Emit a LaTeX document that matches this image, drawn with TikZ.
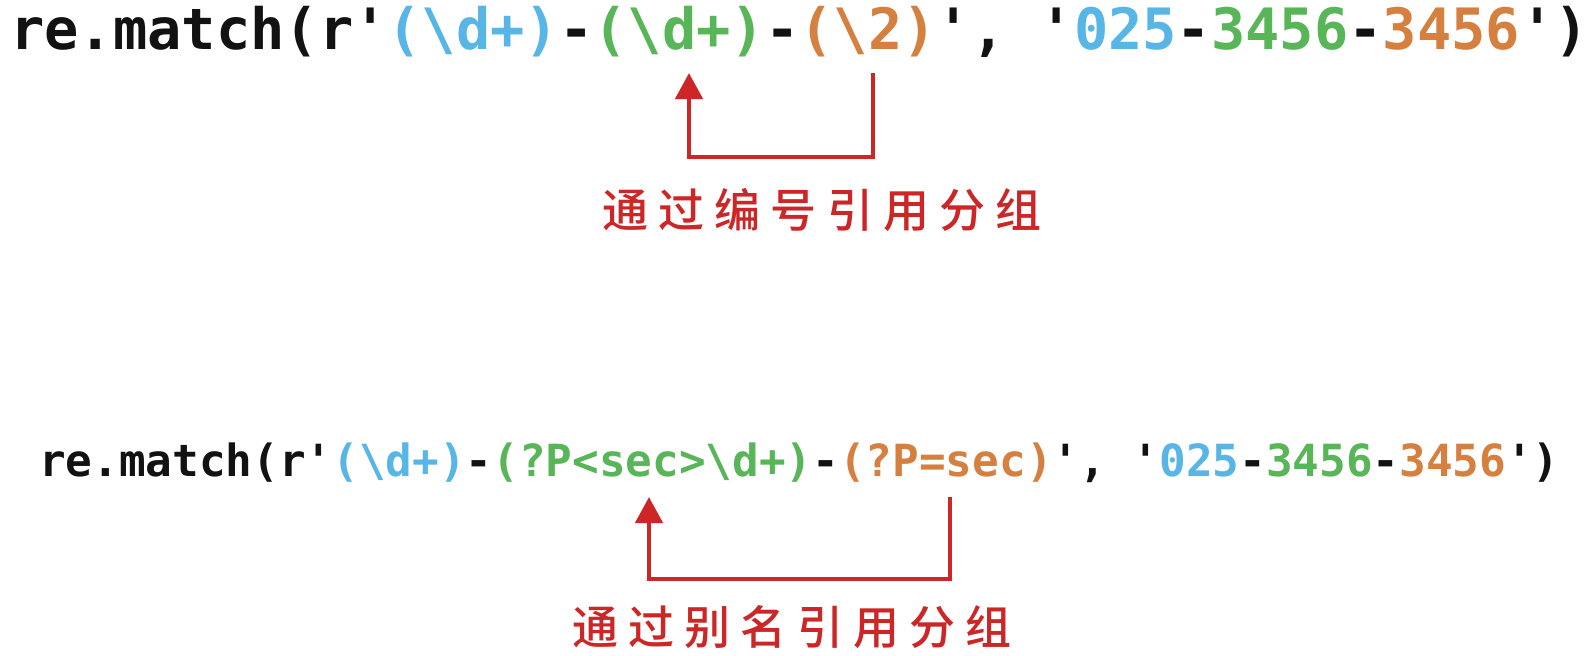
\documentclass[tikz,border=0pt]{standalone}
\usepackage{fontspec}
\usetikzlibrary{arrows.meta}
\newfontfamily\codefont[BoldFont={DejaVu Sans Mono Bold}]{DejaVu Sans Mono}
\newfontfamily\cjkfont[LetterSpace=22]{Noto Sans CJK SC Medium}
\definecolor{cblue}{RGB}{88,182,230}
\definecolor{cgreen}{RGB}{88,182,88}
\definecolor{corange}{RGB}{214,128,64}
\definecolor{cred}{RGB}{205,38,38}
\definecolor{cblack}{RGB}{18,18,18}
\newcommand{\BSL}{\textbackslash}
\newcommand{\SQ}{\textquotesingle}
\tikzset{
  codeline/.style={inner sep=0pt, anchor=base west, text=cblack},
  labeltext/.style={inner sep=0pt, text=cred, font=\cjkfont\fontsize{46}{50}\selectfont},
  refarrow/.style={draw=cred, line width=4.5pt, -{Triangle[width=27pt,length=26pt]}}
}
\begin{document}
\begin{tikzpicture}[x=1pt,y=1pt]
\useasboundingbox[fill=white] (0,0) rectangle (1596,-656);
% line 1
\node[codeline, font=\codefont\bfseries\fontsize{57}{60}\selectfont] (code1) at (10,-49)
 {re.match(r\SQ{\color{cblue}(\BSL d+)}-{\color{cgreen}(\BSL d+)}-{\color{corange}(\BSL 2)}\SQ, \SQ{\color{cblue}025}-{\color{cgreen}3456}-{\color{corange}3456}\SQ)};
\coordinate (s1) at (873,-73);
\coordinate (t1) at (689,-73);
\coordinate (b1) at (0,-157);
\draw[refarrow] (s1) -- (s1 |- b1) -| (t1);
\node[labeltext] (lab1) at (822,-210) {通过编号引用分组};
% line 2
\node[codeline, font=\codefont\bfseries\fontsize{44.3}{48}\selectfont] (code2) at (39,-476)
 {re.match(r\SQ{\color{cblue}(\BSL d+)}-{\color{cgreen}(?P<sec>\BSL d+)}-{\color{corange}(?P=sec)}\SQ, \SQ{\color{cblue}025}-{\color{cgreen}3456}-{\color{corange}3456}\SQ)};
\coordinate (s2) at (950,-497);
\coordinate (t2) at (649,-497);
\coordinate (b2) at (0,-579);
\draw[refarrow] (s2) -- (s2 |- b2) -| (t2);
\node[labeltext] (lab2) at (792,-627) {通过别名引用分组};
\end{tikzpicture}
\end{document}
